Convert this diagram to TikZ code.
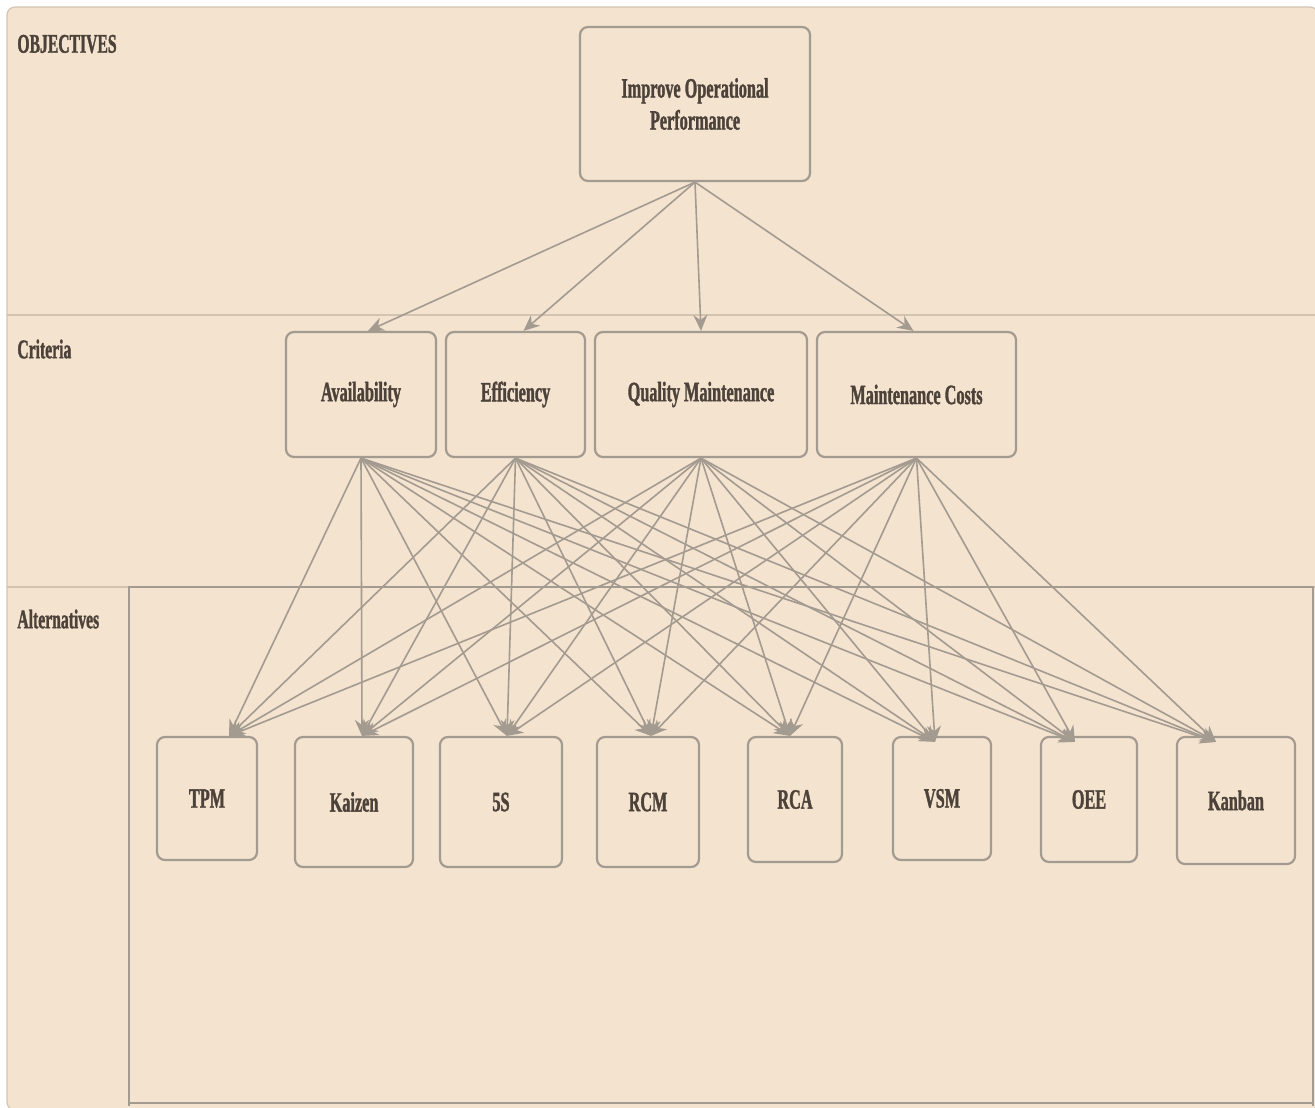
\documentclass[tikz,border=0pt]{standalone}
\usepackage{fontspec}
\usetikzlibrary{arrows.meta}
\newfontfamily\lblfont{Liberation Serif}[FakeStretch=0.58, BoldFeatures={FakeBold=1.2}]
\definecolor{paper}{HTML}{F4E3CF}
\definecolor{edge}{HTML}{A39A90}
\definecolor{lane}{HTML}{D3C4B1}
\definecolor{ink}{HTML}{4C4239}
\tikzset{
  box/.style={draw=edge, line width=1.1pt, rounded corners=4pt, fill=paper,
    text=ink, font=\lblfont\bfseries\fontsize{14pt}{16pt}\selectfont, align=center,
    inner sep=0pt},
  lanelabel/.style={anchor=west, text=ink, inner sep=0pt,
    font=\lblfont\bfseries\fontsize{13.5pt}{16pt}\selectfont},
  link/.style={draw=edge, line width=0.8pt, -{Stealth[length=8pt,width=7pt]}},
}
\begin{document}
\begin{tikzpicture}[x=0.5pt,y=-0.5pt]
% page and pool
\fill[white] (0,0) rectangle (1315,1107);
\useasboundingbox (0,0) rectangle (1315,1107);
\fill[paper, draw=lane, line width=0.6pt, rounded corners=4pt] (7,7) rectangle (1318,1110);
% lane separators
\draw[lane, line width=1pt] (7,315) -- (1315,315);
\draw[lane, line width=1pt] (7,587) -- (1315,587);
\draw[edge, line width=0.8pt] (129,1106) -- (129,587) -- (1313,587) -- (1313,1106);
\draw[edge, line width=1pt] (129,1103) -- (1313,1103);
% lane titles
\node[lanelabel] (lobj) at (17,44) {OBJECTIVES};
\node[lanelabel] (lcri) at (17,349) {Criteria};
\node[lanelabel] (lalt) at (17,619) {Alternatives};
% goal
\node[box, minimum width=115pt, minimum height=77pt] (goal) at (695,104) {Improve Operational\\Performance};
% criteria
\node[box, minimum width=75pt, minimum height=62.5pt] (av) at (361,394.5) {Availability};
\node[box, minimum width=69.5pt, minimum height=62.5pt] (ef) at (515.5,394.5) {Efficiency};
\node[box, minimum width=106pt, minimum height=62.5pt] (qm) at (701,394.5) {Quality Maintenance};
\node[box, minimum width=99.5pt, minimum height=62.5pt] (mc) at (916.5,394.5) {Maintenance Costs};
% alternatives
\node[box, minimum width=50pt, minimum height=61.5pt] (tpm) at (207,798.5) {TPM};
\node[box, minimum width=59pt, minimum height=65pt] (kai) at (354,802) {Kaizen};
\node[box, minimum width=61pt, minimum height=65pt] (fives) at (501,802) {5S};
\node[box, minimum width=51pt, minimum height=65pt] (rcm) at (648,802) {RCM};
\node[box, minimum width=47pt, minimum height=62.5pt] (rca) at (795,799.5) {RCA};
\node[box, minimum width=49pt, minimum height=61.5pt] (vsm) at (942,798.5) {VSM};
\node[box, minimum width=48pt, minimum height=62.5pt] (oee) at (1089,799.5) {OEE};
\node[box, minimum width=59pt, minimum height=63.5pt] (kan) at (1236,800.5) {Kanban};
% goal to criteria
\draw[link] (goal.south) -- ([xshift=3.5pt]av.north);
\draw[link] (goal.south) -- ([xshift=4pt]ef.north);
\draw[link] (goal.south) -- (qm.north);
\draw[link] (goal.south) -- ([xshift=-1.5pt]mc.north);
% criteria to alternatives
\foreach \c in {av,ef,qm,mc}{
  \draw[link] (\c.south) -- ([xshift=11pt]tpm.north);
  \draw[link] (\c.south) -- ([xshift=4pt]kai.north);
  \draw[link] (\c.south) -- ([xshift=3pt]fives.north);
  \draw[link] (\c.south) -- ([xshift=1.5pt]rcm.north);
  \draw[link] (\c.south) -- ([xshift=-2.5pt]rca.north);
  \draw[link] (\c.south) -- ([xshift=-3.5pt,yshift=-3pt]vsm.north);
  \draw[link] (\c.south) -- ([xshift=-7pt,yshift=-3pt]oee.north);
  \draw[link] (\c.south) -- ([xshift=-10pt,yshift=-3pt]kan.north);
}
\end{tikzpicture}
\end{document}
